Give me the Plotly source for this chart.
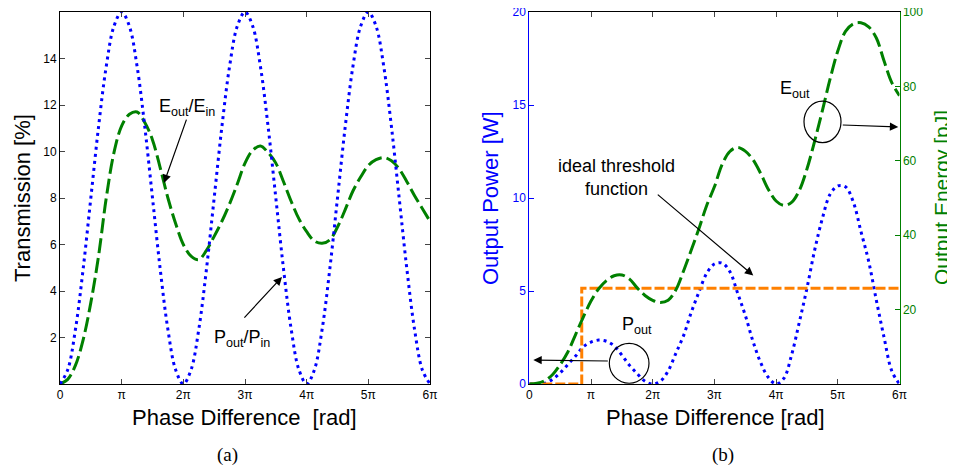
import numpy as np
import plotly.graph_objects as go

PI = np.pi
# sampling grid: 0 .. 6*pi in steps of pi/8 (expressed in units of pi)
phase_pi = [i / 8 for i in range(49)]

# (a) transmission [%]
trans_power = [0, 0.61, 2.34, 4.94, 8.0, 11.06, 13.66, 15.39, 16.0, 15.39, 13.66, 11.06, 8.0, 4.94, 2.34, 0.61,
               0, 0.61, 2.34, 4.94, 8.0, 11.06, 13.66, 15.39, 16.0, 15.39, 13.66, 11.06, 8.0, 4.94, 2.34, 0.61,
               0, 0.61, 2.34, 4.94, 8.0, 11.06, 13.66, 15.39, 16.0, 15.39, 13.66, 11.06, 8.0, 4.94, 2.34, 0.61,
               0]
trans_energy = [0, 0.2, 0.8, 1.9, 3.5, 5.5, 8.0, 9.95, 11.1, 11.6, 11.7, 11.25, 10.5, 9.3, 8.0, 6.9,
                6.0, 5.5, 5.35, 5.75, 6.35, 7.0, 7.75, 8.6, 9.5, 10.05, 10.24, 9.95, 9.5, 8.7, 7.85, 7.1,
                6.55, 6.15, 6.05, 6.2, 6.75, 7.5, 8.3, 8.9, 9.4, 9.65, 9.74, 9.6, 9.25, 8.7, 8.1, 7.55,
                7.0]

# (b) output power [W] and output energy [pJ]
out_power = [0, 0, 0.04, 0.25, 0.6, 1.05, 1.5, 2.0, 2.25, 2.36, 2.3, 2.05, 1.55, 1.0, 0.55, 0.15,
             0, 0.15, 0.7, 1.65, 2.6, 3.85, 4.95, 5.95, 6.45, 6.5, 6.05, 4.9, 3.7, 2.3, 1.15, 0.35,
             0, 0.3, 1.55, 3.3, 5.15, 7.2, 8.9, 10.2, 10.65, 10.6, 9.8, 8.2, 6.6, 4.5, 2.5, 0.7,
             0]
out_energy = [0, 0.2, 0.9, 2.5, 5.2, 8.6, 13.3, 18.0, 22.3, 25.6, 27.8, 29.1, 29.3, 28.2, 25.8, 23.8,
              22.5, 21.9, 22.5, 25.3, 30.4, 36.0, 41.8, 48.0, 53.0, 59.0, 62.5, 63.6, 62.6, 60.3, 56.6, 52.3,
              49.2, 48.0, 48.8, 52.0, 57.8, 65.3, 73.5, 82.0, 89.5, 94.8, 96.8, 97.1, 96.0, 93.0, 86.8, 81.0,
              77.5]
threshold_phase_pi = [0, 0.85, 0.85, 6]
threshold_power = [0, 0, 5.15, 5.15]

tick_vals_pi = [0, 1, 2, 3, 4, 5, 6]
tick_text = ["0", "π", "2π", "3π", "4π", "5π", "6π"]

BLUE = "#0000FF"
GREEN = "#008000"
ORANGE = "#FF8000"
FONT = "Liberation Sans, Arial, Helvetica, sans-serif"

x = np.array(phase_pi) * PI
xt = np.array(threshold_phase_pi) * PI
tv = [v * PI for v in tick_vals_pi]

fig = go.Figure()
fig.add_trace(go.Scatter(x=x, y=trans_energy, mode="lines", line=dict(color=GREEN, width=3, dash="15px,5px", shape="spline"),
                         xaxis="x", yaxis="y", showlegend=False))
fig.add_trace(go.Scatter(x=x, y=trans_power, mode="lines", line=dict(color=BLUE, width=3, dash="3px,4px", shape="spline"),
                         xaxis="x", yaxis="y", showlegend=False))

fig.add_trace(go.Scatter(x=x, y=out_energy, mode="lines", line=dict(color=GREEN, width=3, dash="15px,5px", shape="spline"),
                         xaxis="x2", yaxis="y3", showlegend=False))
fig.add_trace(go.Scatter(x=x, y=out_power, mode="lines", line=dict(color=BLUE, width=3, dash="3px,4px", shape="spline"),
                         xaxis="x2", yaxis="y2", showlegend=False))
fig.add_trace(go.Scatter(x=xt, y=threshold_power, mode="lines", line=dict(color=ORANGE, width=3, dash="10px,3px"),
                         xaxis="x2", yaxis="y2", showlegend=False))

# the page body adds an 8px margin, so the figure is drawn 8px smaller and
# positions are given in window pixels minus that offset
OFF = 8
W, H = 955 - OFF, 469 - OFF
def px(xp):
    return (xp - OFF) / W
def py(yp):
    return 1 - (yp - OFF) / H

axis_common = dict(showgrid=False, zeroline=False, ticks="inside", ticklen=5, tickwidth=1, automargin=False,
                   showline=True, linewidth=1, ticklabeloverflow="allow",
                   tickfont=dict(family=FONT, size=12, color="black"))

dom_y = [py(384), py(12)]
fig.update_layout(
    width=W, height=H, margin=dict(l=0, r=0, t=0, b=0, pad=0, autoexpand=False),
    paper_bgcolor="white", plot_bgcolor="white",
    font=dict(family=FONT, color="black"),
    xaxis=dict(axis_common, domain=[px(60), px(430)], range=[0, 6 * PI], tickvals=tv, ticktext=tick_text,
               linecolor="black", mirror="ticks", anchor="y"),
    yaxis=dict(axis_common, domain=dom_y, range=[0, 16], tickvals=[2, 4, 6, 8, 10, 12, 14],
               linecolor="black", mirror="ticks", anchor="x"),
    xaxis2=dict(axis_common, domain=[px(529.3), px(899.5)], range=[0, 6 * PI], tickvals=tv, ticktext=tick_text,
                linecolor="black", mirror="ticks", anchor="y2"),
    yaxis2=dict(axis_common, domain=dom_y, range=[0, 20], tickvals=[0, 5, 10, 15, 20],
                linecolor=BLUE, tickcolor=BLUE, tickfont=dict(family=FONT, size=12, color=BLUE), anchor="x2"),
    yaxis3=dict(axis_common, domain=dom_y, range=[0, 100], tickvals=[20, 40, 60, 80, 100], overlaying="y2",
                side="right", linecolor=GREEN, tickcolor=GREEN, tickfont=dict(family=FONT, size=12, color=GREEN),
                anchor="x2"),
)

ann = []
def label(text, xx, yy, size=18, color="black", angle=0, family=FONT, xref="paper", yref="paper"):
    ann.append(dict(text=text, x=xx, y=yy, xref=xref, yref=yref, showarrow=False, textangle=angle,
                    font=dict(family=family, size=size, color=color), xanchor="center", yanchor="middle"))
def arrow(xx, yy, ax, ay, xref, yref):
    ann.append(dict(text="", x=xx, y=yy, xref=xref, yref=yref, ax=ax, ay=ay, showarrow=True,
                    arrowhead=2, arrowsize=1.4, arrowwidth=1.2, arrowcolor="black"))

# axis titles
label("Transmission [%]", px(22), py(198), size=22, angle=-90)
label("Phase Difference&nbsp; [rad]", px(245), py(417), size=22)
label("Output Power [W]", px(490), py(198), size=22, angle=-90, color=BLUE)
label("Output Energy [pJ]", px(941), py(198), size=21, angle=-90, color=GREEN)
label("Phase Difference [rad]", px(715.5), py(417), size=22)
label("(a)", px(227), py(455), size=19, family="Liberation Serif, DejaVu Serif, serif")
label("(b)", px(722.7), py(455), size=19, family="Liberation Serif, DejaVu Serif, serif")

# panel (a) annotations
label("E<sub>out</sub>/E<sub>in</sub>", 2.06 * PI, 11.9, xref="x", yref="y")
arrow(1.686 * PI, 8.64, 23, -65, "x", "y")
label("P<sub>out</sub>/P<sub>in</sub>", 2.95 * PI, 1.97, xref="x", yref="y")
arrow(3.6 * PI, 4.6, -39, 42, "x", "y")

# panel (b) annotations
label("ideal threshold<br>function", 1.42 * PI, 11.11, xref="x2", yref="y2")
arrow(3.63 * PI, 5.84, -97, -82, "x2", "y2")
label("E<sub>out</sub>", 4.31 * PI, 15.85, xref="x2", yref="y2")
arrow(5.98 * PI, 69.1, -57, -2, "x2", "y3")
label("P<sub>out</sub>", 1.745 * PI, 3.16, xref="x2", yref="y2")
arrow(0.065 * PI, 1.29, 76, 1, "x2", "y2")
fig.update_layout(annotations=ann)

fig.update_layout(shapes=[
    dict(type="circle", xref="x2", yref="y2", x0=4.452 * PI, x1=5.052 * PI, y0=12.98, y1=15.21,
         line=dict(color="black", width=1.2)),
    dict(type="circle", xref="x2", yref="y2", x0=1.297 * PI, x1=1.94 * PI, y0=0.04, y1=2.18,
         line=dict(color="black", width=1.2)),
])

fig.write_html("out.html")
